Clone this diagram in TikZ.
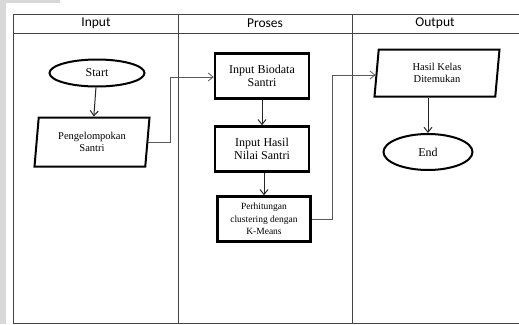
\documentclass[tikz,border=0pt]{standalone}
\usepackage{fontspec}
\setmainfont{Liberation Serif}
\newfontfamily\headfont{Carlito}
\usetikzlibrary{arrows.meta,shapes.geometric}
\definecolor{lanegray}{RGB}{68,68,68}
\definecolor{stripgray}{RGB}{216,216,216}
\tikzset{every picture/.style={line width=.8pt}}

\begin{document}
\begin{tikzpicture}[x=1pt,y=-1pt,>={Straight Barb[length=5pt,width=8pt]},
 every node/.style={font=\fontsize{12}{13}\selectfont,align=center},
 terminal/.style={ellipse,draw,line width=2pt,inner sep=0pt},
 iobox/.style={trapezium,trapezium left angle=78,trapezium right angle=102,
  trapezium stretches body,draw,line width=2pt,inner sep=0pt},
 procbox/.style={rectangle,draw,line width=2.4pt,inner sep=0pt},
 flow/.style={->,line width=1pt,black!85},
 link/.style={->,line width=.8pt,black!65},
 lanehead/.style={font=\headfont\fontsize{13.5}{15}\selectfont}]
 \useasboundingbox (0,0) rectangle (519,324);
 \fill[white] (0,0) rectangle (519,324);
 \fill[stripgray] (0,0) rectangle (6,324);
 \fill[stripgray] (0,0) rectangle (60,3);

 % swimlane frame with its three columns
 \draw[lanegray,line width=.9pt] (13,14) rectangle (522,323);
 \draw[lanegray,line width=.9pt] (13,33)--(522,33);
 \draw[lanegray,line width=.9pt] (178,14)--(178,323);
 \draw[lanegray,line width=.9pt] (352,14)--(352,323);
 \node[lanehead] (hin) at (96,23.5) {Input};
 \node[lanehead] (hpro) at (265,23.5) {Proses};
 \node[lanehead] (hout) at (435,23.5) {Output};

 % Input column
 \node[terminal,minimum width=95pt,minimum height=27pt] (start) at (97,73) {Start};
 \node[iobox,minimum width=115pt,minimum height=49pt,
  font=\fontsize{10.5}{12.5}\selectfont] (kelompok) at (92,142) {Pengelompokan\\Santri};

 % Proses column
 \node[procbox,minimum width=94pt,minimum height=45pt] (biodata) at (262,76)
  {Input Biodata\\Santri};
 \node[procbox,minimum width=94pt,minimum height=45pt] (nilai) at (262,149)
  {Input Hasil\\Nilai Santri};
 \node[procbox,minimum width=93pt,minimum height=45pt,
  font=\fontsize{9.5}{12.5}\selectfont] (kmeans) at (264,219)
  {Perhitungan\\clustering dengan\\K-Means};

 % Output column
 \node[iobox,minimum width=125pt,minimum height=47pt,
  font=\fontsize{10.5}{12.5}\selectfont] (hasil) at (437,73)
  {Hasil Kelas\\Ditemukan};
 \node[terminal,minimum width=89pt,minimum height=36pt] (end) at (428,152) {End};

 \draw[flow] (start) -- (kelompok);
 \draw[flow] (biodata) -- (nilai);
 \draw[flow] (nilai.south -| kmeans.north) -- (kmeans);
 \draw[flow] (hasil.south -| end.north) -- (end);
 \draw[link] (kelompok.east) -| (170,77) -- (biodata.west |- 0,77);
 \draw[link] (kmeans.east) -| (332,75) -- (hasil.west |- 0,75);
\end{tikzpicture}
\end{document}
